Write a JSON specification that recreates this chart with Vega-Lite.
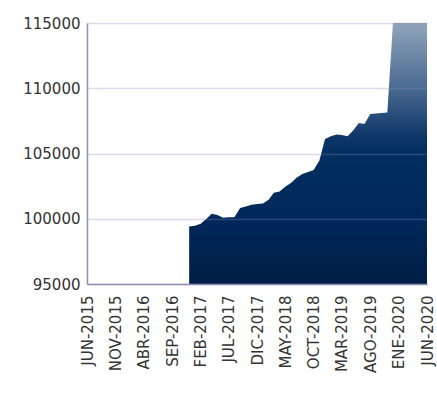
{
  "$schema": "https://vega.github.io/schema/vega-lite/v6.json",
  "width": 340,
  "height": 261,
  "autosize": "none",
  "padding": {"left": 87, "top": 23, "right": 10, "bottom": 125},
  "config": {"view": {"stroke": null}, "background": "#ffffff"},
  "data": {
    "values": [
      {"date": "2016-12-01", "value": 99400},
      {"date": "2017-01-01", "value": 99470},
      {"date": "2017-02-01", "value": 99625},
      {"date": "2017-03-01", "value": 99970},
      {"date": "2017-04-01", "value": 100390},
      {"date": "2017-05-01", "value": 100280},
      {"date": "2017-06-01", "value": 100085},
      {"date": "2017-07-01", "value": 100110},
      {"date": "2017-08-01", "value": 100110},
      {"date": "2017-09-01", "value": 100815},
      {"date": "2017-10-01", "value": 100930},
      {"date": "2017-11-01", "value": 101080},
      {"date": "2017-12-01", "value": 101135},
      {"date": "2018-01-01", "value": 101160},
      {"date": "2018-02-01", "value": 101465},
      {"date": "2018-03-01", "value": 102000},
      {"date": "2018-04-01", "value": 102080},
      {"date": "2018-05-01", "value": 102460},
      {"date": "2018-06-01", "value": 102730},
      {"date": "2018-07-01", "value": 103150},
      {"date": "2018-08-01", "value": 103420},
      {"date": "2018-09-01", "value": 103575},
      {"date": "2018-10-01", "value": 103730},
      {"date": "2018-11-01", "value": 104460},
      {"date": "2018-12-01", "value": 106110},
      {"date": "2019-01-01", "value": 106320},
      {"date": "2019-02-01", "value": 106450},
      {"date": "2019-03-01", "value": 106410},
      {"date": "2019-04-01", "value": 106320},
      {"date": "2019-05-01", "value": 106760},
      {"date": "2019-06-01", "value": 107330},
      {"date": "2019-07-01", "value": 107255},
      {"date": "2019-08-01", "value": 108020},
      {"date": "2019-09-01", "value": 108060},
      {"date": "2019-10-01", "value": 108100},
      {"date": "2019-11-01", "value": 108140},
      {"date": "2019-12-01", "value": 115000},
      {"date": "2020-01-01", "value": 115000},
      {"date": "2020-02-01", "value": 115000},
      {"date": "2020-03-01", "value": 115000},
      {"date": "2020-04-01", "value": 115000},
      {"date": "2020-05-01", "value": 115000},
      {"date": "2020-06-01", "value": 115000}
    ]
  },
  "mark": {
    "type": "area",
    "clip": true,
    "opacity": 1,
    "color": {
      "gradient": "linear",
      "x1": 0, "y1": 1, "x2": 0, "y2": 0,
      "stops": [
        {"offset": 0, "color": "#001e44"},
        {"offset": 0.25, "color": "#00285a"},
        {"offset": 0.5, "color": "#002f60"},
        {"offset": 0.56, "color": "#0c3667"},
        {"offset": 0.75, "color": "#4a6a90"},
        {"offset": 1, "color": "#90a5bc"}
      ]
    }
  },
  "encoding": {
    "x": {
      "field": "date",
      "type": "temporal",
      "scale": {
        "type": "utc",
        "domain": [
          {"year": 2015, "month": 6, "date": 1, "utc": true},
          {"year": 2020, "month": 6, "date": 1, "utc": true}
        ]
      },
      "axis": {
        "title": null,
        "values": [
          {"year": 2015, "month": 6, "date": 1, "utc": true},
          {"year": 2015, "month": 11, "date": 1, "utc": true},
          {"year": 2016, "month": 4, "date": 1, "utc": true},
          {"year": 2016, "month": 9, "date": 1, "utc": true},
          {"year": 2017, "month": 2, "date": 1, "utc": true},
          {"year": 2017, "month": 7, "date": 1, "utc": true},
          {"year": 2017, "month": 12, "date": 1, "utc": true},
          {"year": 2018, "month": 5, "date": 1, "utc": true},
          {"year": 2018, "month": 10, "date": 1, "utc": true},
          {"year": 2019, "month": 3, "date": 1, "utc": true},
          {"year": 2019, "month": 8, "date": 1, "utc": true},
          {"year": 2020, "month": 1, "date": 1, "utc": true},
          {"year": 2020, "month": 6, "date": 1, "utc": true}
        ],
        "labelExpr": "['ENE','FEB','MAR','ABR','MAY','JUN','JUL','AGO','SEP','OCT','NOV','DIC'][utcmonth(datum.value)] + '-' + utcyear(datum.value)",
        "labelAngle": -90,
        "labelFont": "DejaVu Sans",
        "labelFontSize": 15,
        "labelColor": "#333333",
        "labelPadding": 11,
        "labelOverlap": false,
        "labelFlush": false,
        "ticks": false,
        "grid": false,
        "domainColor": "#8a90b4",
        "domainWidth": 1.5,
        "zindex": 1
      }
    },
    "y": {
      "field": "value",
      "type": "quantitative",
      "scale": {"domain": [95000, 115000], "zero": false, "nice": false},
      "axis": {
        "title": null,
        "values": [95000, 100000, 105000, 110000, 115000],
        "format": "d",
        "labelFont": "DejaVu Sans",
        "labelFontSize": 15,
        "labelColor": "#333333",
        "labelPadding": 7,
        "labelFlush": false,
        "ticks": false,
        "grid": true,
        "gridColor": "#8890c0",
        "gridOpacity": 0.3,
        "gridWidth": 1.5,
        "domainColor": "#8a90b4",
        "domainWidth": 1.5,
        "zindex": 1
      }
    },
    "y2": {"datum": 95000}
  }
}
